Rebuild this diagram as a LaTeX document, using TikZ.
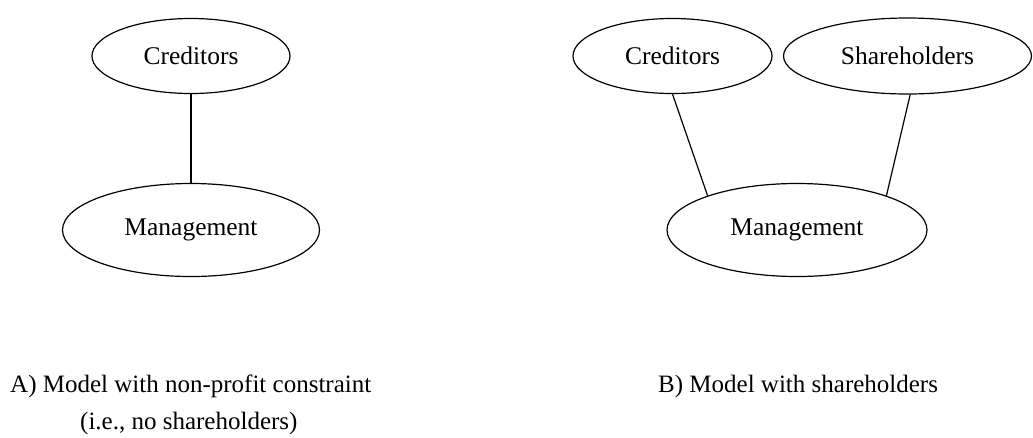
\documentclass[tikz,border=0pt]{standalone}
\usepackage{fontspec}
\setmainfont{Liberation Serif}
\usetikzlibrary{shapes.geometric}
\begin{document}
\begin{tikzpicture}[x=1pt,y=-1pt,
  ent/.style={draw, ellipse, line width=1.2pt, inner sep=0pt, font=\fontsize{25.5}{30}\selectfont},
  link/.style={line width=1.2pt},
  captext/.style={anchor=west, inner sep=0pt, font=\fontsize{25}{30}\selectfont}]
\useasboundingbox (0,0) rectangle (1033,437);
% A
\node[ent, minimum width=198pt, minimum height=75pt] (credA) at (191,56) {Creditors};
\node[ent, minimum width=257pt, minimum height=93pt] (mgmtA) at (191,230) {Management};
\draw[link] (credA.south) -- (mgmtA.north);
% B
\node[ent, minimum width=199pt, minimum height=75pt] (credB) at (672.5,56) {Creditors};
\node[ent, minimum width=248pt, minimum height=76pt] (shB) at (907.5,56) {Shareholders};
\node[ent, minimum width=260pt, minimum height=93pt] (mgmtB) at (797,230) {Management};
\draw[link] (credB.south) -- (mgmtB.159);
\draw[link] (shB.-86) -- (mgmtB.21);
% captions
\node[captext] (capA1) at (10,386) {A) Model with non-profit constraint};
\node[captext] (capA2) at (80,423) {(i.e., no shareholders)};
\node[captext] (capB) at (658,386) {B) Model with shareholders};
\end{tikzpicture}
\end{document}
